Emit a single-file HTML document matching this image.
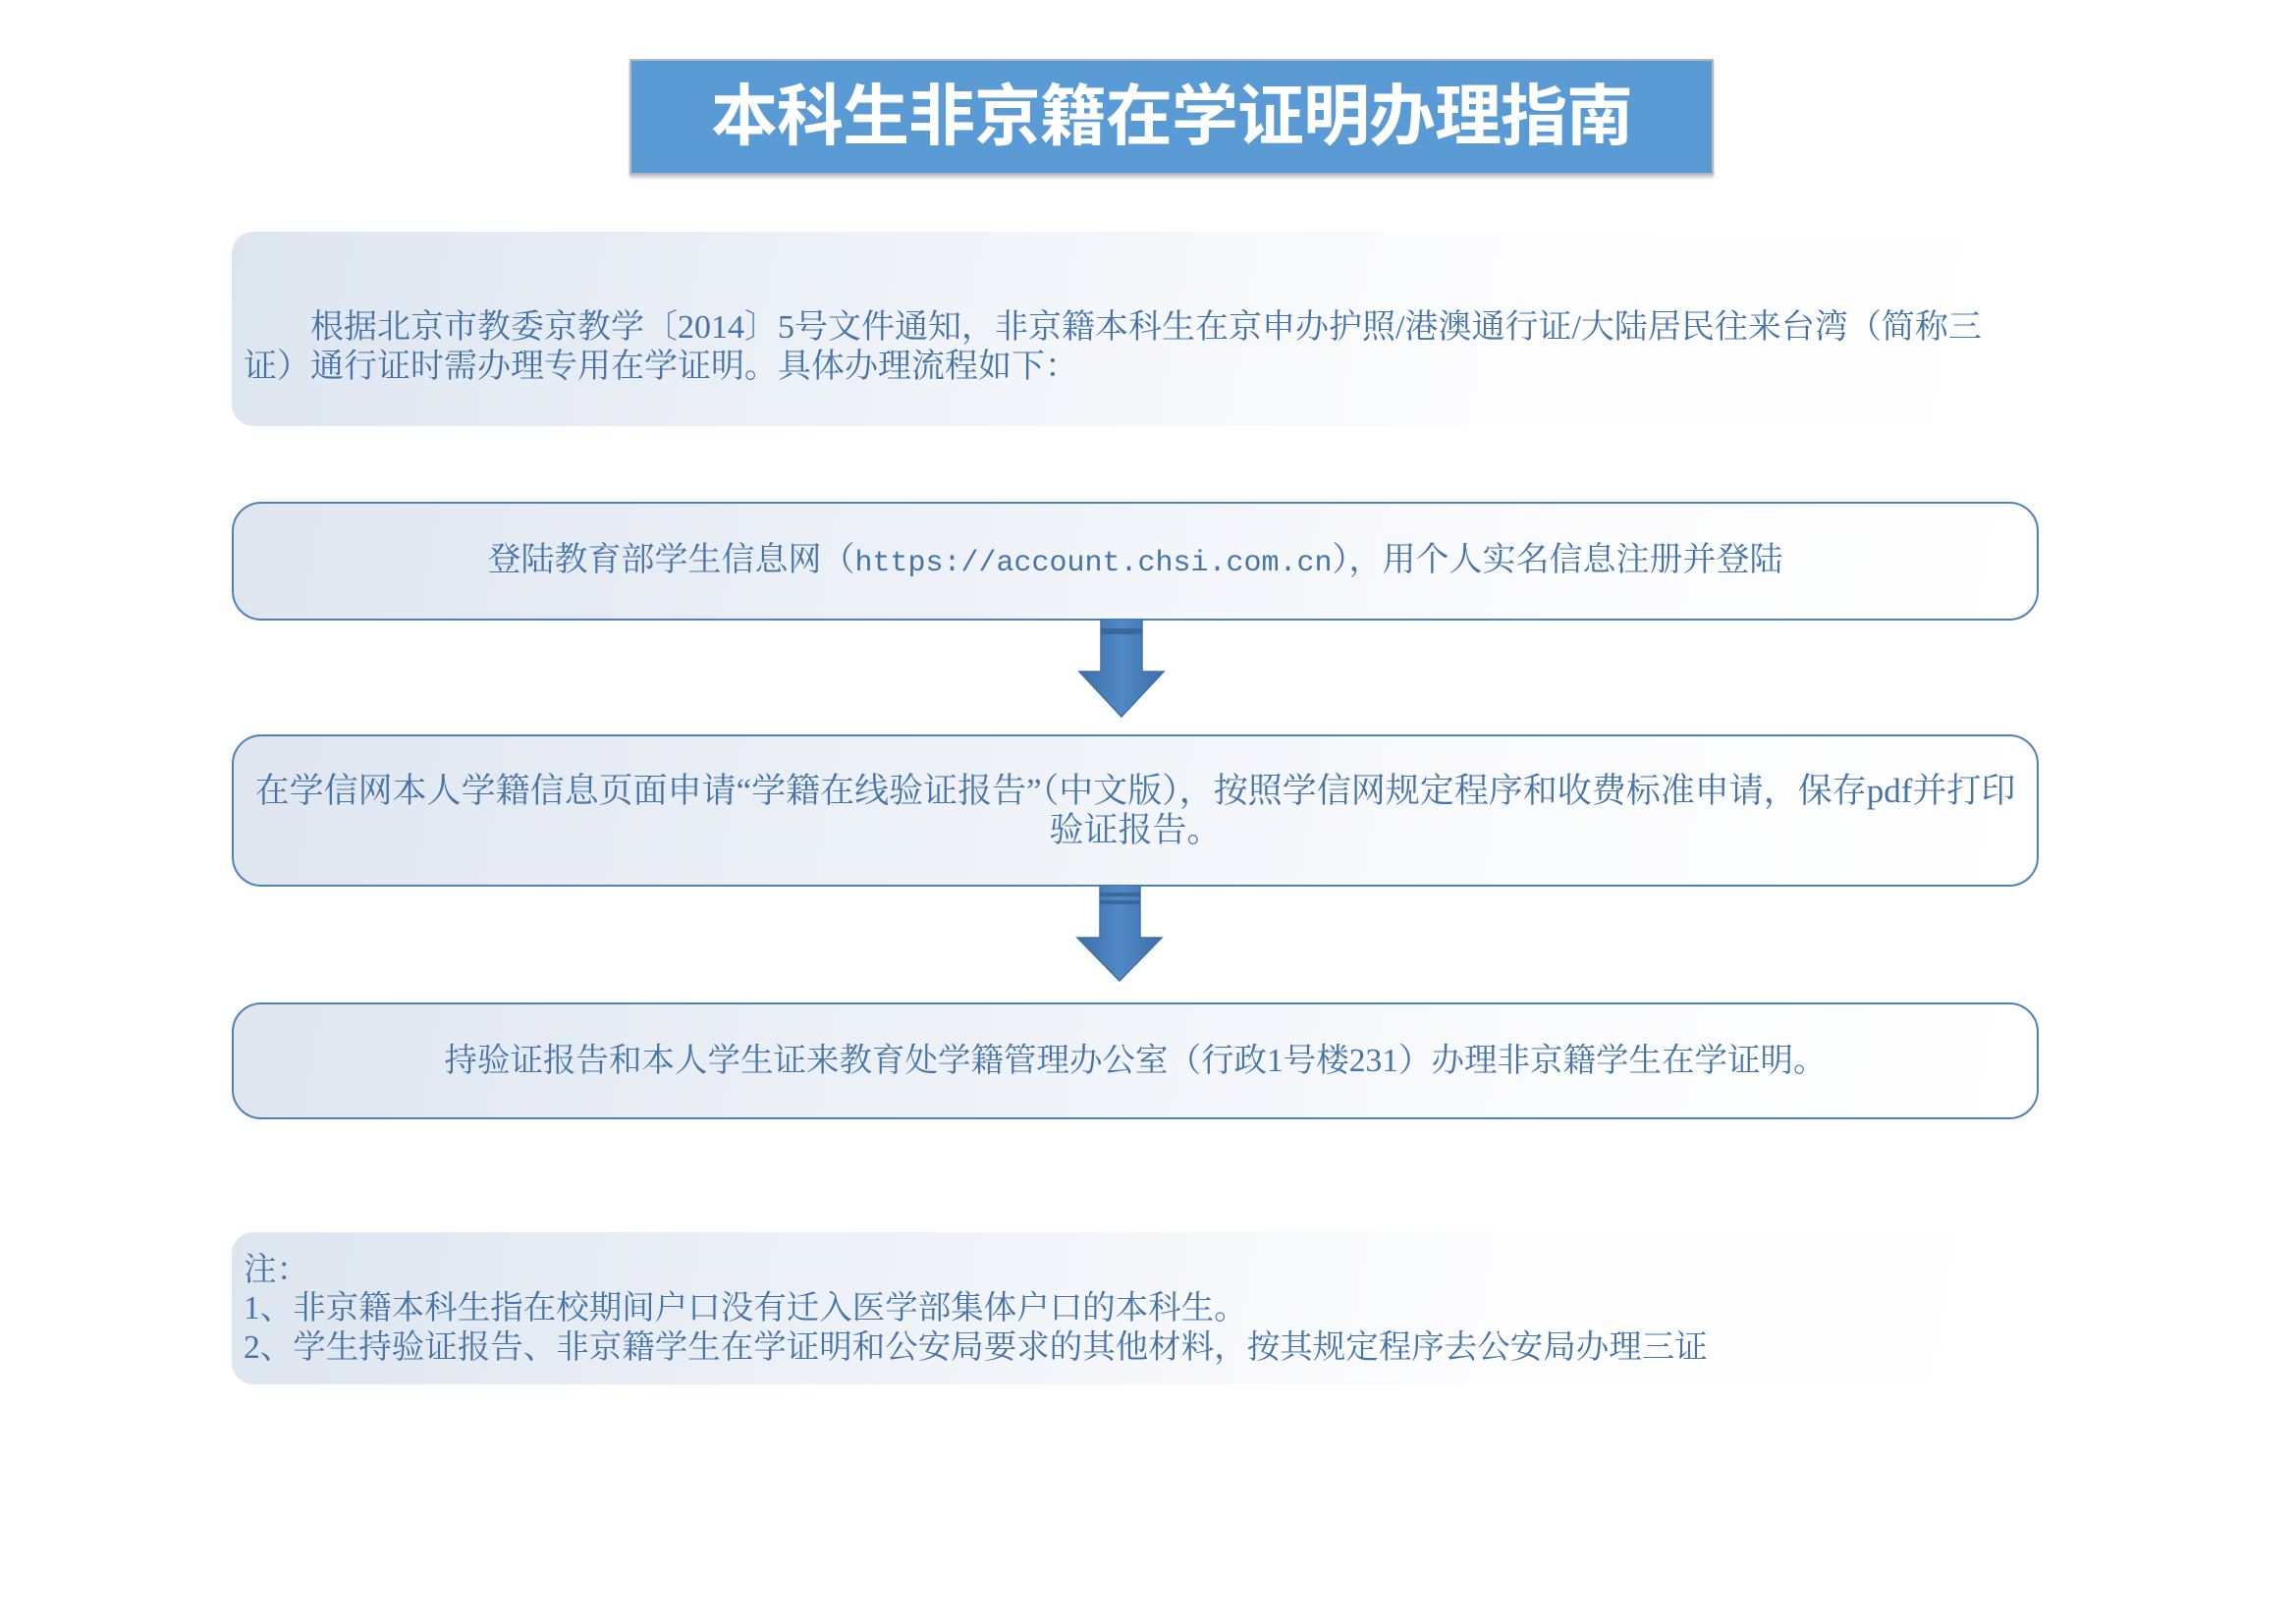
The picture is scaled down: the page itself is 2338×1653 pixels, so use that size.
<!DOCTYPE html>
<html><head><meta charset="utf-8"><style>
html,body{margin:0;padding:0;background:#fff;}
body{width:2338px;height:1653px;position:relative;overflow:hidden;font-family:"Liberation Serif","Noto Serif CJK SC",serif;color:#4674a8;}
.title{position:absolute;left:641px;top:60px;width:1100px;height:114px;background:#5b9bd5;border:2px solid #b4b9c0;box-shadow:0 3px 3px #c8c8c8;color:#fff;font-family:"Liberation Sans","Noto Sans CJK SC",sans-serif;font-weight:bold;font-size:68px;line-height:114px;text-align:center;letter-spacing:-1px;}
.soft{position:absolute;left:236px;width:1840px;border-radius:22px;background:linear-gradient(100deg,#dde5ef 0%,#eef2f8 35%,#fdfdfe 70%,#fff 100%);}
.box{position:absolute;left:236px;width:1840px;border:2.5px solid #4f81b9;border-radius:30px;background:linear-gradient(100deg,#dfe6f0 0%,#eef2f8 40%,#fbfcfe 75%,#fff 100%);text-align:center;font-size:34px;white-space:nowrap;box-sizing:border-box;}
.t{position:absolute;font-size:34px;white-space:nowrap;line-height:40px;}
.m{font-family:"Liberation Mono",monospace;font-size:30px;}
</style></head><body>
<div class="title">本科生非京籍在学证明办理指南</div>

<div class="soft" style="top:236px;height:198px;"></div>
<div class="t" style="left:248px;top:314px;text-indent:68px;">根据北京市教委京教学〔2014〕5号文件通知，非京籍本科生在京申办护照/港澳通行证/大陆居民往来台湾（简称三</div>
<div class="t" style="left:248px;top:354px;">证）通行证时需办理专用在学证明。具体办理流程如下：</div>

<div class="box" style="top:511px;height:121px;line-height:116px;">登陆教育部学生信息网（<span class="m">https://account.chsi.com.cn</span>），用个人实名信息注册并登陆</div>

<svg style="position:absolute;left:1088px;top:630px" width="110" height="110">
<defs><linearGradient id="g" x1="0" x2="1"><stop offset="0" stop-color="#3e6fa8"/><stop offset="0.5" stop-color="#5089c6"/><stop offset="1" stop-color="#3e6fa8"/></linearGradient></defs>
<polygon points="33,0 75,0 75,54 97,54 54,100 11,54 33,54" fill="url(#g)" stroke="#3f70a8" stroke-width="1.5"/>
<rect x="33" y="10" width="42" height="6" fill="#3a679c"/>
</svg>

<div class="box" style="top:748px;height:155px;line-height:40px;padding-top:36px;font-size:35px;">在学信网本人学籍信息页面申请“学籍在线验证报告”（中文版），按照学信网规定程序和收费标准申请，保存pdf并打印<br>验证报告。</div>

<svg style="position:absolute;left:1087px;top:901px" width="110" height="104">
<polygon points="33,0 74,0 74,54 96,54 53,98 10,54 33,54" fill="url(#g)" stroke="#3f70a8" stroke-width="1.5"/>
<rect x="33" y="8" width="41" height="4" fill="#3a679c"/>
<rect x="33" y="16" width="41" height="4" fill="#3a679c"/>
</svg>

<div class="box" style="top:1021px;height:119px;line-height:115px;font-size:33.5px;">持验证报告和本人学生证来教育处学籍管理办公室（行政1号楼231）办理非京籍学生在学证明。</div>

<div class="soft" style="top:1255px;height:155px;"></div>
<div class="t" style="left:248px;top:1274px;font-size:33.5px;">注：</div>
<div class="t" style="left:248px;top:1313px;font-size:33.5px;">1、非京籍本科生指在校期间户口没有迁入医学部集体户口的本科生。</div>
<div class="t" style="left:248px;top:1353px;font-size:33.5px;">2、学生持验证报告、非京籍学生在学证明和公安局要求的其他材料，按其规定程序去公安局办理三证</div>
</body></html>
